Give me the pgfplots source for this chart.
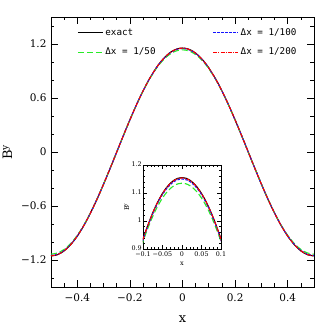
\documentclass[border=0pt]{standalone}
\usepackage{fontspec}
\setmainfont{DejaVu Serif}
\setmonofont{DejaVu Sans Mono}
\usepackage{pgfplots}
\usepackage{pgfplotstable}
\pgfplotsset{compat=1.18}
\definecolor{cGreen}{RGB}{40,235,40}
\definecolor{cBlue}{RGB}{20,20,255}
\definecolor{cRed}{RGB}{255,0,0}

% x, exact, dx=1/50, dx=1/100, dx=1/200
\pgfplotstableread{
x ex d50 d100 d200
-0.500 -1.1550 -1.1350 -1.1500 -1.1540
-0.475 -1.1408 -1.1218 -1.1360 -1.1398
-0.450 -1.0985 -1.0821 -1.0944 -1.0977
-0.425 -1.0291 -1.0165 -1.0259 -1.0285
-0.400 -0.9344 -0.9258 -0.9323 -0.9340
-0.375 -0.8167 -0.8117 -0.8154 -0.8165
-0.350 -0.6789 -0.6765 -0.6783 -0.6788
-0.325 -0.5244 -0.5235 -0.5242 -0.5244
-0.300 -0.3569 -0.3567 -0.3569 -0.3569
-0.275 -0.1807 -0.1807 -0.1807 -0.1807
-0.250 0 0 0 0
-0.225 0.1807 0.1807 0.1807 0.1807
-0.200 0.3569 0.3567 0.3569 0.3569
-0.175 0.5244 0.5235 0.5242 0.5244
-0.150 0.6789 0.6765 0.6783 0.6788
-0.125 0.8167 0.8117 0.8154 0.8165
-0.100 0.9344 0.9258 0.9323 0.9340
-0.090 0.9752 0.9650 0.9727 0.9747
-0.080 1.0121 1.0003 1.0092 1.0115
-0.070 1.0451 1.0317 1.0417 1.0444
-0.060 1.0739 1.0590 1.0702 1.0732
-0.050 1.0985 1.0821 1.0944 1.0977
-0.040 1.1187 1.1011 1.1143 1.1178
-0.030 1.1345 1.1159 1.1298 1.1336
-0.020 1.1459 1.1265 1.1411 1.1449
-0.010 1.1527 1.1329 1.1477 1.1517
0.000 1.1550 1.1350 1.1500 1.1540
0.010 1.1527 1.1329 1.1477 1.1517
0.020 1.1459 1.1265 1.1411 1.1449
0.030 1.1345 1.1159 1.1298 1.1336
0.040 1.1187 1.1011 1.1143 1.1178
0.050 1.0985 1.0821 1.0944 1.0977
0.060 1.0739 1.0590 1.0702 1.0732
0.070 1.0451 1.0317 1.0417 1.0444
0.080 1.0121 1.0003 1.0092 1.0115
0.090 0.9752 0.9650 0.9727 0.9747
0.100 0.9344 0.9258 0.9323 0.9340
0.125 0.8167 0.8117 0.8154 0.8165
0.150 0.6789 0.6765 0.6783 0.6788
0.175 0.5244 0.5235 0.5242 0.5244
0.200 0.3569 0.3567 0.3569 0.3569
0.225 0.1807 0.1807 0.1807 0.1807
0.250 0 0 0 0
0.275 -0.1807 -0.1807 -0.1807 -0.1807
0.300 -0.3569 -0.3567 -0.3569 -0.3569
0.325 -0.5244 -0.5235 -0.5242 -0.5244
0.350 -0.6789 -0.6765 -0.6783 -0.6788
0.375 -0.8167 -0.8117 -0.8154 -0.8165
0.400 -0.9344 -0.9258 -0.9323 -0.9340
0.425 -1.0291 -1.0165 -1.0259 -1.0285
0.450 -1.0985 -1.0821 -1.0944 -1.0977
0.475 -1.1408 -1.1218 -1.1360 -1.1398
0.500 -1.1550 -1.1350 -1.1500 -1.1540
}\bydata

\pgfplotsset{
  exactstyle/.style={black, line width=1.1pt},
  d50style/.style={cGreen, line width=1.1pt, dash pattern=on 6pt off 3pt},
  d100style/.style={cBlue, line width=1.1pt, dash pattern=on 2.5pt off 1.5pt},
  d200style/.style={cRed, line width=1.1pt, dash pattern=on 4pt off 1.2pt on 1pt off 1.2pt},
}

\begin{document}
\begin{tikzpicture}
\begin{axis}[
  name=main,
  scale only axis, width=263bp, height=270bp,
  xmin=-0.5, xmax=0.5, ymin=-1.5, ymax=1.5,
  xtick={-0.4,-0.2,0,0.2,0.4},
  xticklabels={−0.4,−0.2,0,0.2,0.4},
  ytick={-1.2,-0.6,0,0.6,1.2},
  yticklabels={−1.2,−0.6,0,0.6,1.2},
  minor xtick={-0.45,-0.35,-0.3,-0.25,-0.15,-0.1,-0.05,0.05,0.1,0.15,0.25,0.3,0.35,0.45},
  minor ytick={-1.4,-1,-0.8,-0.4,-0.2,0.2,0.4,0.8,1,1.4},
  major tick length=7bp, minor tick length=3.5bp,
  tick style={black, line width=0.6pt},
  axis line style={line width=0.8pt},
  ticklabel style={font=\fontsize{10.5}{12}\selectfont},
  xticklabel style={yshift=-3pt},
  yticklabel style={xshift=-1pt},
  xlabel={x}, ylabel={B\textsuperscript{y}},
  label style={font=\fontsize{13}{15}\selectfont},
  xlabel style={yshift=-8pt}, ylabel style={yshift=2pt},
  legend columns=2,
  legend style={draw=none, fill=none, at={(0.088,0.972)}, anchor=north west,
    font=\ttfamily\fontsize{9.3}{11}\selectfont, row sep=7pt,
    /tikz/every even column/.append style={column sep=55bp}},
  legend cell align=left,
  legend image code/.code={\draw[#1] (0bp,0bp) -- (25bp,0bp);},
]
\addplot[exactstyle, smooth, forget plot] table[x=x, y=ex] {\bydata};
\addplot[d50style, smooth, forget plot] table[x=x, y=d50] {\bydata};
\addplot[d100style, smooth, forget plot] table[x=x, y=d100] {\bydata};
\addplot[d200style, smooth, forget plot] table[x=x, y=d200] {\bydata};
\addlegendimage{exactstyle}
\addlegendentry{exact}
\addlegendimage{d100style}
\addlegendentry{Δx = 1/100}
\addlegendimage{d50style}
\addlegendentry{Δx = 1/50}
\addlegendimage{d200style}
\addlegendentry{Δx = 1/200}
\end{axis}

\begin{axis}[
  at={(main.south west)}, xshift=92bp, yshift=38bp, anchor=south west,
  scale only axis, width=78bp, height=84bp,
  axis background/.style={fill=white},
  xmin=-0.1, xmax=0.1, ymin=0.9, ymax=1.2,
  xtick={-0.1,-0.05,0,0.05,0.1},
  xticklabels={−0.1,−0.05,0,0.05,0.1},
  ytick={0.9,1,1.1,1.2},
  yticklabels={0.9,1,1.1,1.2},
  minor xtick={-0.09,-0.08,-0.07,-0.06,-0.04,-0.03,-0.02,-0.01,0.01,0.02,0.03,0.04,0.06,0.07,0.08,0.09},
  minor ytick={0.92,0.94,0.96,0.98,1.02,1.04,1.06,1.08,1.12,1.14,1.16,1.18},
  major tick length=4bp, minor tick length=2bp,
  tick style={black, line width=0.5pt},
  axis line style={line width=0.7pt},
  ticklabel style={font=\fontsize{6.4}{7}\selectfont},
  xticklabel style={inner sep=1pt, yshift=-1.5pt},
  yticklabel style={inner sep=1pt, yshift=1pt},
  xlabel={x}, ylabel={B\textsuperscript{y}},
  label style={font=\fontsize{6.5}{7}\selectfont},
  xlabel style={yshift=-1pt}, ylabel style={yshift=-2pt},
]
\addplot[exactstyle, smooth] table[x=x, y=ex] {\bydata};
\addplot[d50style, smooth] table[x=x, y=d50] {\bydata};
\addplot[d100style, smooth] table[x=x, y=d100] {\bydata};
\addplot[d200style, smooth] table[x=x, y=d200] {\bydata};
\end{axis}

\pgfresetboundingbox
\path ([shift={(-51bp,-45bp)}]main.south west) rectangle ([shift={(18bp,17bp)}]main.north east);
\end{tikzpicture}
\end{document}
